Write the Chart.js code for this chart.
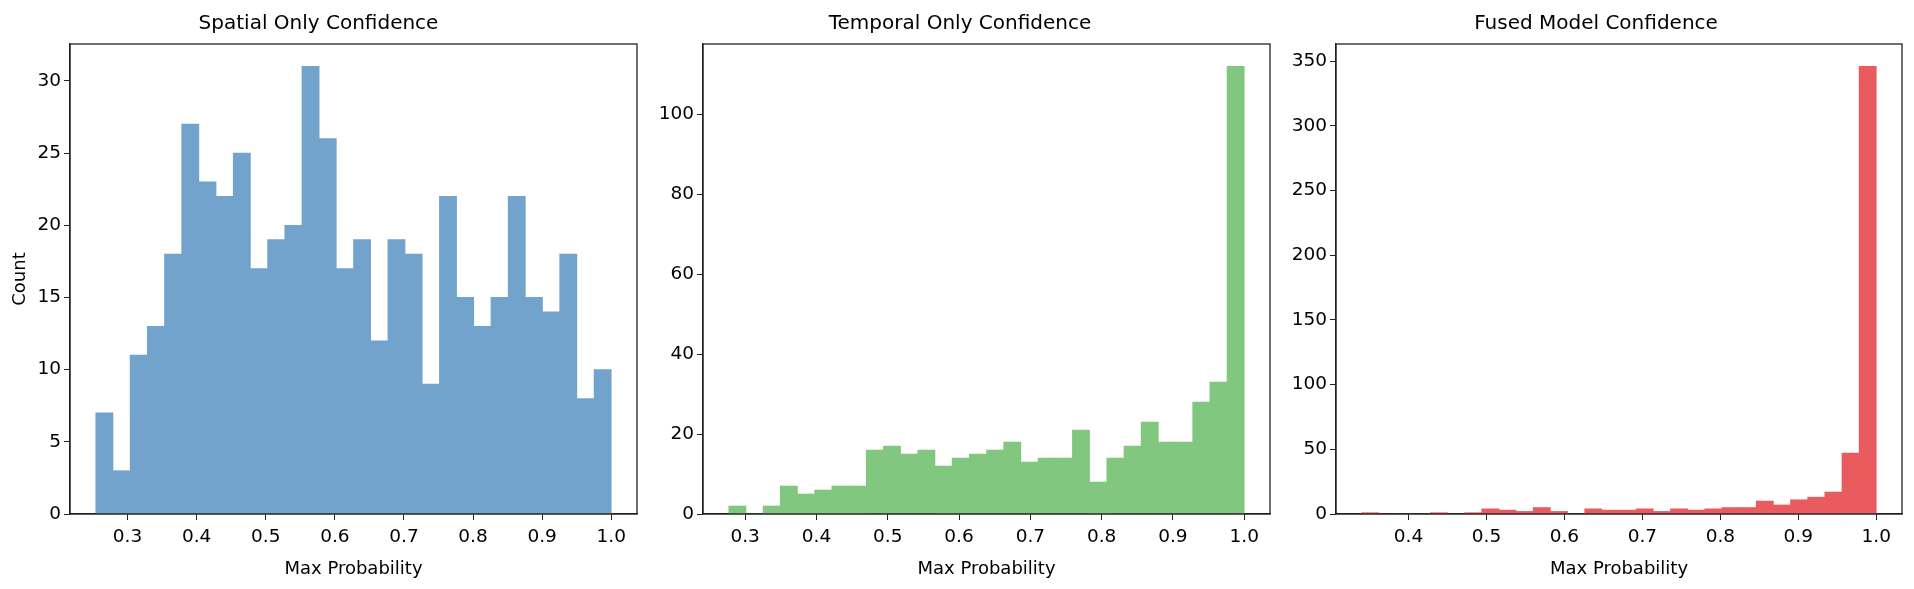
<!DOCTYPE html>
<html lang="en">
<head>
    <meta charset="UTF-8">
    <title>Confidence Histograms</title>
    <script src="https://cdn.jsdelivr.net/npm/chart.js@4.4.1/dist/chart.umd.min.js"></script>
    <style>
        html, body { margin: 0; padding: 0; background: #fff; }
        #fig { position: relative; width: 1914px; height: 589px; overflow: hidden; }
        #fig canvas { position: absolute; top: 0; }
    </style>
</head>
<body>
<div id="fig">
    <canvas id="spatial" width="650" height="589" style="left:0px"></canvas>
    <canvas id="temporal" width="640" height="589" style="left:650px"></canvas>
    <canvas id="fused" width="624" height="589" style="left:1290px"></canvas>
</div>

<script>
    // histogram counts, 30 bins each
    var spatialCounts = [7, 3, 11, 13, 18, 27, 23, 22, 25, 17, 19, 20, 31, 26, 17,
                         19, 12, 19, 18, 9, 22, 15, 13, 15, 22, 15, 14, 18, 8, 10];
    var temporalCounts = [2, 0, 2, 7, 5, 6, 7, 7, 16, 17, 15, 16, 12, 14, 15,
                          16, 18, 13, 14, 14, 21, 8, 14, 17, 23, 18, 18, 28, 33, 112];
    var fusedCounts = [1, 0, 0, 0, 1, 0, 1, 4, 3, 2, 5, 2, 0, 4, 3,
                       3, 4, 2, 4, 3, 4, 5, 5, 10, 7, 11, 13, 17, 47, 346];

    // data range (min, max) of each histogram
    var spatialRange = [0.254, 1.0];
    var temporalRange = [0.277, 1.0];
    var fusedRange = [0.340, 1.0];

    // tick labels
    var spatialXTicks = [0.3, 0.4, 0.5, 0.6, 0.7, 0.8, 0.9, 1.0];
    var temporalXTicks = [0.3, 0.4, 0.5, 0.6, 0.7, 0.8, 0.9, 1.0];
    var fusedXTicks = [0.4, 0.5, 0.6, 0.7, 0.8, 0.9, 1.0];
    var spatialYTicks = [0, 5, 10, 15, 20, 25, 30];
    var temporalYTicks = [0, 20, 40, 60, 80, 100];
    var fusedYTicks = [0, 50, 100, 150, 200, 250, 300, 350];

    var FONT = "'DejaVu Sans', sans-serif";

    // box around the plot area, like matplotlib spines
    var framePlugin = {
        id: 'frame',
        afterDraw: function(chart) {
            var ctx = chart.ctx, a = chart.chartArea;
            ctx.save();
            ctx.strokeStyle = '#222';
            ctx.lineWidth = 1.3;
            ctx.strokeRect(a.left, a.top, a.right - a.left, a.bottom - a.top);
            ctx.restore();
        }
    };

    function makeHist(id, counts, range, color, title, xTicks, yTicks, yWidth, padRight, yLabel) {
        var n = counts.length;
        var w = (range[1] - range[0]) / n;
        var pts = counts.map(function(c, i) {
            return { x: range[0] + (i + 0.5) * w, y: c };
        });
        var span = range[1] - range[0];
        var yMax = Math.max.apply(null, counts) * 1.05;

        new Chart(document.getElementById(id), {
            type: 'bar',
            data: {
                datasets: [{
                    data: pts,
                    backgroundColor: color,
                    borderWidth: 0,
                    barPercentage: 1.0,
                    categoryPercentage: 1.0
                }]
            },
            options: {
                responsive: false,
                animation: false,
                devicePixelRatio: 1,
                layout: { padding: { left: 0, right: padRight, top: 0, bottom: 9 } },
                plugins: {
                    legend: { display: false },
                    tooltip: { enabled: false },
                    title: {
                        display: true,
                        text: title,
                        color: '#000',
                        font: { family: FONT, size: 20, weight: 'normal' },
                        padding: { top: 12, bottom: 8 }
                    }
                },
                scales: {
                    x: {
                        type: 'linear',
                        offset: false,
                        min: range[0] - 0.05 * span,
                        max: range[1] + 0.05 * span,
                        afterBuildTicks: function(s) {
                            s.ticks = xTicks.map(function(v) { return { value: v }; });
                        },
                        afterFit: function(s) { s.height = 66; },
                        ticks: {
                            color: '#000',
                            font: { family: FONT, size: 18.5 },
                            padding: 6,
                            maxRotation: 0,
                            autoSkip: false,
                            callback: function(v) { return Number(v).toFixed(1); }
                        },
                        grid: { offset: false, drawOnChartArea: false, drawTicks: true, tickLength: 6, tickColor: '#222' },
                        border: { display: true, color: '#222', width: 1.3 },
                        title: {
                            display: true,
                            text: 'Max Probability',
                            color: '#000',
                            font: { family: FONT, size: 18 },
                            padding: { top: 0, bottom: 0 }
                        }
                    },
                    y: {
                        min: 0,
                        max: yMax,
                        afterBuildTicks: function(s) {
                            s.ticks = yTicks.map(function(v) { return { value: v }; });
                        },
                        afterFit: function(s) { s.width = yWidth; },
                        ticks: {
                            color: '#000',
                            font: { family: FONT, size: 18.5 },
                            padding: 3,
                            autoSkip: false
                        },
                        grid: { drawOnChartArea: false, drawTicks: true, tickLength: 6, tickColor: '#222' },
                        border: { display: true, color: '#222', width: 1.3 },
                        title: {
                            display: !!yLabel,
                            text: yLabel || '',
                            color: '#000',
                            font: { family: FONT, size: 18 },
                            padding: { top: 10, bottom: 0 }
                        }
                    }
                }
            },
            plugins: [framePlugin]
        });
    }

    makeHist('spatial', spatialCounts, spatialRange, '#72a3cc', 'Spatial Only Confidence',
             spatialXTicks, spatialYTicks, 70, 13, 'Count');
    makeHist('temporal', temporalCounts, temporalRange, '#82c77f', 'Temporal Only Confidence',
             temporalXTicks, temporalYTicks, 53, 20, null);
    makeHist('fused', fusedCounts, fusedRange, '#ea5b60', 'Fused Model Confidence',
             fusedXTicks, fusedYTicks, 46, 12, null);
</script>
</body>
</html>
